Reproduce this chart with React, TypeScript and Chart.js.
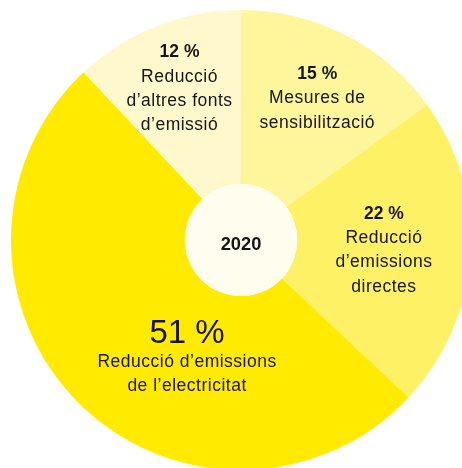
import React, { useEffect, useRef } from "react";
import { Chart, registerables } from "chart.js";

Chart.register(...registerables);

// Data
const categories = [
  "Mesures de sensibilització",
  "Reducció d’emissions directes",
  "Reducció d’emissions de l’electricitat",
  "Reducció d’altres fonts d’emissió",
];
const values = [15, 22, 51, 12];
const headings = ["15 %", "22 %", "51 %", "12 %"];
const bodyLines = [
  ["Mesures de", "sensibilització"],
  ["Reducció", "d’emissions", "directes"],
  ["Reducció d’emissions", "de l’electricitat"],
  ["Reducció", "d’altres fonts", "d’emissió"],
];
const centerLabel = "2020";

// Styling / placement (not data)
const sliceColors = ["#FFF59A", "#FFF166", "#FFEA00", "#FFF8CC"];
const holeColor = "#FFFDEE";
const labelAngleDeg = [29.2, 96.1, 203.0, 337.2];
const labelRadiusFrac = [0.68, 0.625, 0.6, 0.69];
const headingFonts = [
  "bold 17.5px 'Liberation Sans', Arial, sans-serif",
  "bold 17.5px 'Liberation Sans', Arial, sans-serif",
  "33px 'Liberation Sans', Arial, sans-serif",
  "bold 17.5px 'Liberation Sans', Arial, sans-serif",
];
const bodyFont = "17.5px 'Liberation Sans', Arial, sans-serif";
const bodySpacing = "0.5px";
const lineHeight = 24.3;

const labelPlugin = {
  id: "pieLabels",
  afterDatasetsDraw(chart: any) {
    const ctx = chart.ctx as CanvasRenderingContext2D;
    const meta = chart.getDatasetMeta(0);
    const arcs = meta.data as any[];
    if (!arcs.length) return;
    const a0 = arcs[0];
    const cx = a0.x;
    const cy = a0.y;
    const outer = a0.outerRadius;
    const inner = a0.innerRadius;

    ctx.save();
    // centre hole
    ctx.beginPath();
    ctx.arc(cx, cy, inner, 0, Math.PI * 2);
    ctx.fillStyle = holeColor;
    ctx.fill();

    ctx.fillStyle = "#161616";
    ctx.textAlign = "center";
    ctx.textBaseline = "alphabetic";

    arcs.forEach((_arc, i) => {
      const ang = (labelAngleDeg[i] * Math.PI) / 180;
      const r = outer * labelRadiusFrac[i];
      const px = cx + Math.sin(ang) * r;
      const py = cy - Math.cos(ang) * r;
      const lines = [headings[i], ...bodyLines[i]];
      const n = lines.length;
      const b0 = py - ((n - 1) / 2) * lineHeight;
      lines.forEach((t, j) => {
        if (j === 0) {
          ctx.font = headingFonts[i];
          (ctx as any).letterSpacing = "0px";
        } else {
          ctx.font = bodyFont;
          (ctx as any).letterSpacing = bodySpacing;
        }
        ctx.fillText(t, px, b0 + j * lineHeight);
      });
    });

    (ctx as any).letterSpacing = "0px";
    ctx.font = "bold 18.3px 'Liberation Sans', Arial, sans-serif";
    ctx.fillText(centerLabel, cx, cy + 10);
    ctx.restore();
  },
};

export default function App() {
  const ref = useRef<HTMLCanvasElement | null>(null);

  useEffect(() => {
    if (!ref.current) return;
    const chart = new Chart(ref.current, {
      type: "doughnut",
      data: {
        labels: categories,
        datasets: [
          {
            data: values,
            backgroundColor: sliceColors,
            borderWidth: 0,
            hoverOffset: 0,
            offset: 0,
          },
        ],
      },
      options: {
        responsive: false,
        animation: false,
        events: [],
        cutout: "24.4%",
        layout: { padding: 0 },
        plugins: {
          legend: { display: false },
          tooltip: { enabled: false },
        },
      },
      plugins: [labelPlugin],
    });
    return () => chart.destroy();
  }, []);

  return (
    <div
      style={{
        position: "fixed",
        left: 0,
        top: 0,
        width: 462,
        height: 468,
        overflow: "hidden",
        background: "#ffffff",
      }}
    >
      <canvas
        ref={ref}
        width={460}
        height={460}
        style={{ position: "absolute", left: 11, top: 10, width: 460, height: 460 }}
      />
    </div>
  );
}
